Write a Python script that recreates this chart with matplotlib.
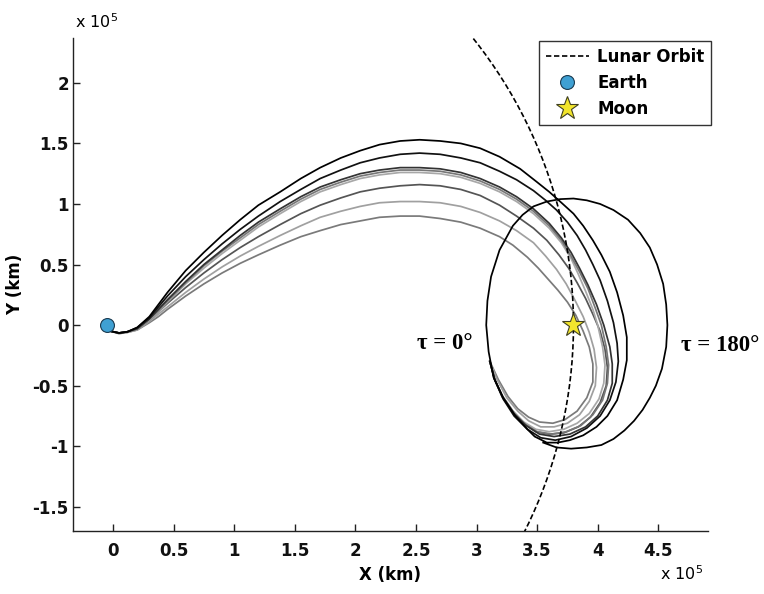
import numpy as np
import matplotlib
matplotlib.use('Agg')
import matplotlib.pyplot as plt

# all distances in units of 1e5 km (rotating frame, barycentre at origin)
earth_pos = (-0.05, 0.0)
moon_pos = (3.80, 0.0)
lunar_orbit_radius = 3.80

# common x samples for the outbound leg
rise_x = [-0.02, 0.05, 0.12, 0.2, 0.3, 0.375, 0.45, 0.6, 0.75, 0.9, 1.05, 1.2, 1.38,
          1.55, 1.71, 1.88, 2.04, 2.2, 2.37, 2.53, 2.7, 2.87, 3.03, 3.19]

# trajectory 1 (outermost, black) -- outbound leg then two lunar loops
t1_rise_y = [-0.05, -0.065, -0.055, -0.02, 0.07, 0.17, 0.27, 0.45, 0.6, 0.74, 0.87,
             0.99, 1.1, 1.21, 1.3, 1.38, 1.44, 1.49, 1.52, 1.53, 1.52, 1.5, 1.46, 1.39]
t1_loop_x = [3.36, 3.5, 3.6, 3.69, 3.8, 3.88, 3.96, 4.03, 4.1, 4.16, 4.21, 4.24, 4.24,
             4.21, 4.16, 4.08, 3.99, 3.88, 3.77, 3.67, 3.58, 3.48, 3.42, 3.32, 3.22,
             3.14, 3.1, 3.08, 3.09, 3.12, 3.19, 3.3, 3.38, 3.47, 3.58, 3.69, 3.8, 3.91,
             4.02, 4.13, 4.25, 4.35, 4.43, 4.49, 4.54, 4.565, 4.575, 4.565, 4.53, 4.48,
             4.43, 4.37, 4.3, 4.22, 4.13, 4.03, 3.91, 3.78, 3.66, 3.55]
t1_loop_y = [1.29, 1.18, 1.1, 1.02, 0.92, 0.82, 0.7, 0.58, 0.44, 0.27, 0.08, -0.1, -0.29,
             -0.45, -0.62, -0.75, -0.84, -0.91, -0.95, -0.97, -0.97, -0.92, -0.86, -0.75,
             -0.6, -0.43, -0.22, 0.0, 0.2, 0.4, 0.62, 0.82, 0.91, 0.98, 1.02, 1.04, 1.045,
             1.03, 1.0, 0.95, 0.87, 0.76, 0.64, 0.5, 0.34, 0.17, 0.0, -0.18, -0.36, -0.5,
             -0.6, -0.7, -0.79, -0.87, -0.94, -0.99, -1.01, -1.02, -1.01, -0.97]

t2_rise_y = [-0.05, -0.065, -0.055, -0.02, 0.06, 0.15, 0.24, 0.4, 0.54, 0.67, 0.79, 0.9,
             1.02, 1.12, 1.21, 1.28, 1.34, 1.38, 1.41, 1.42, 1.41, 1.38, 1.34, 1.27]
t2_loop_x = [3.33, 3.47, 3.57, 3.66, 3.75, 3.83, 3.9, 3.96, 4.02, 4.08, 4.13, 4.16, 4.17,
             4.15, 4.1, 4.02, 3.91, 3.78, 3.65, 3.53, 3.42, 3.31, 3.22, 3.15, 3.11]
t2_loop_y = [1.2, 1.11, 1.03, 0.95, 0.85, 0.74, 0.62, 0.5, 0.37, 0.2, 0.02, -0.15, -0.3,
             -0.47, -0.62, -0.75, -0.85, -0.92, -0.95, -0.93, -0.86, -0.75, -0.61, -0.45, -0.3]

t3_rise_y = [-0.05, -0.065, -0.055, -0.03, 0.05, 0.13, 0.21, 0.36, 0.5, 0.62, 0.74, 0.85,
             0.96, 1.06, 1.14, 1.2, 1.25, 1.28, 1.3, 1.3, 1.29, 1.26, 1.21, 1.14]
t3_loop_x = [3.33, 3.47, 3.6, 3.7, 3.78, 3.85, 3.92, 3.99, 4.05, 4.1, 4.12, 4.12, 4.08,
             4.0, 3.9, 3.77, 3.64, 3.52, 3.41, 3.31, 3.22, 3.15, 3.11]
t3_loop_y = [1.06, 0.96, 0.84, 0.72, 0.6, 0.47, 0.33, 0.17, 0.0, -0.18, -0.32, -0.48, -0.62,
             -0.75, -0.84, -0.9, -0.92, -0.9, -0.83, -0.73, -0.6, -0.45, -0.3]

t4_rise_y = [-0.05, -0.065, -0.055, -0.03, 0.05, 0.12, 0.2, 0.35, 0.49, 0.61, 0.72, 0.83,
             0.94, 1.04, 1.12, 1.18, 1.23, 1.26, 1.28, 1.28, 1.27, 1.24, 1.19, 1.12]
t4_loop_x = [3.33, 3.47, 3.6, 3.7, 3.78, 3.85, 3.92, 3.98, 4.03, 4.07, 4.09, 4.08, 4.04,
             3.96, 3.86, 3.74, 3.62, 3.5, 3.4, 3.3, 3.21, 3.15, 3.11]
t4_loop_y = [1.04, 0.94, 0.82, 0.7, 0.57, 0.44, 0.3, 0.14, 0.0, -0.18, -0.33, -0.48, -0.62,
             -0.74, -0.83, -0.88, -0.9, -0.88, -0.82, -0.72, -0.59, -0.45, -0.3]

t5_rise_y = [-0.05, -0.065, -0.055, -0.03, 0.04, 0.11, 0.19, 0.34, 0.47, 0.59, 0.7, 0.81,
             0.92, 1.02, 1.1, 1.16, 1.21, 1.24, 1.26, 1.26, 1.25, 1.22, 1.17, 1.1]
t5_loop_x = [3.33, 3.47, 3.6, 3.7, 3.78, 3.84, 3.9, 3.96, 4.0, 4.04, 4.06, 4.05, 4.01,
             3.93, 3.83, 3.72, 3.6, 3.49, 3.39, 3.29, 3.21, 3.15, 3.11]
t5_loop_y = [1.02, 0.92, 0.8, 0.68, 0.55, 0.42, 0.28, 0.13, 0.0, -0.18, -0.33, -0.48, -0.61,
             -0.73, -0.81, -0.86, -0.88, -0.86, -0.8, -0.7, -0.58, -0.45, -0.3]

t6_rise_y = [-0.05, -0.065, -0.055, -0.03, 0.04, 0.11, 0.18, 0.31, 0.43, 0.54, 0.64, 0.73,
             0.83, 0.92, 0.99, 1.05, 1.1, 1.13, 1.15, 1.16, 1.15, 1.12, 1.07, 0.99]
t6_loop_x = [3.33, 3.47, 3.58, 3.68, 3.76, 3.83, 3.9, 3.96, 4.02, 4.06, 4.08, 4.07, 4.02,
             3.94, 3.84, 3.72, 3.6, 3.49, 3.39, 3.3, 3.21, 3.15, 3.11]
t6_loop_y = [0.9, 0.8, 0.7, 0.58, 0.47, 0.35, 0.22, 0.09, -0.05, -0.2, -0.35, -0.5, -0.64,
             -0.76, -0.84, -0.89, -0.9, -0.88, -0.81, -0.71, -0.58, -0.45, -0.3]

t7_rise_y = [-0.05, -0.07, -0.06, -0.04, 0.03, 0.09, 0.15, 0.27, 0.38, 0.48, 0.57, 0.65,
             0.74, 0.82, 0.89, 0.94, 0.98, 1.01, 1.02, 1.02, 1.01, 0.98, 0.93, 0.86]
t7_loop_x = [3.33, 3.47, 3.57, 3.66, 3.74, 3.81, 3.88, 3.93, 3.97, 3.99, 3.98, 3.93,
             3.85, 3.75, 3.64, 3.53, 3.43, 3.34, 3.25, 3.17, 3.11]
t7_loop_y = [0.78, 0.68, 0.57, 0.46, 0.34, 0.21, 0.07, -0.06, -0.2, -0.35, -0.5, -0.63,
             -0.74, -0.81, -0.84, -0.84, -0.79, -0.71, -0.6, -0.45, -0.3]

t8_rise_y = [-0.05, -0.07, -0.06, -0.04, 0.02, 0.07, 0.13, 0.24, 0.34, 0.43, 0.51, 0.58,
             0.66, 0.73, 0.78, 0.83, 0.86, 0.89, 0.9, 0.9, 0.88, 0.85, 0.8, 0.73]
t8_loop_x = [3.3, 3.42, 3.51, 3.59, 3.67, 3.75, 3.82, 3.88, 3.93, 3.96, 3.96, 3.91,
             3.83, 3.73, 3.63, 3.52, 3.43, 3.34, 3.26, 3.18, 3.11]
t8_loop_y = [0.66, 0.56, 0.47, 0.38, 0.29, 0.19, 0.08, -0.05, -0.18, -0.32, -0.47, -0.6,
             -0.71, -0.78, -0.81, -0.8, -0.76, -0.69, -0.59, -0.45, -0.3]

trajectories = [
    (t8_rise_y, t8_loop_x, t8_loop_y, '#7a7a7a'),
    (t7_rise_y, t7_loop_x, t7_loop_y, '#a0a0a0'),
    (t6_rise_y, t6_loop_x, t6_loop_y, '#555555'),
    (t5_rise_y, t5_loop_x, t5_loop_y, '#a8a8a8'),
    (t4_rise_y, t4_loop_x, t4_loop_y, '#777777'),
    (t3_rise_y, t3_loop_x, t3_loop_y, '#333333'),
    (t2_rise_y, t2_loop_x, t2_loop_y, '#111111'),
    (t1_rise_y, t1_loop_x, t1_loop_y, '#000000'),
]

sans = ['DejaVu Sans']
serif = ['Liberation Serif', 'DejaVu Serif']
plt.rcParams['font.family'] = sans

fig = plt.figure(figsize=(7.64, 5.94), dpi=100)
ax = fig.add_axes([0.0955, 0.106, 0.8312, 0.830])

for rise_y, loop_x, loop_y, col in trajectories:
    ax.plot(rise_x + loop_x, rise_y + loop_y, color=col, lw=1.25,
            solid_joinstyle='round', zorder=2)

theta = np.linspace(0, 2 * np.pi, 721)
ax.plot(lunar_orbit_radius * np.cos(theta), lunar_orbit_radius * np.sin(theta),
        color='black', ls=(0, (3.2, 1.6)), lw=1.2, label='Lunar Orbit', zorder=3)
ax.plot(*earth_pos, 'o', ms=10, mfc='#3fa0d3', mec='#1a3a50', mew=0.8,
        ls='none', label='Earth', zorder=4)
ax.plot(*moon_pos, '*', ms=17, mfc='#f2e52c', mec='#404020', mew=0.8,
        ls='none', label='Moon', zorder=4)

ax.set_xlim(-0.33, 4.91)
ax.set_ylim(-1.70, 2.37)
ax.set_xticks([0, 0.5, 1, 1.5, 2, 2.5, 3, 3.5, 4, 4.5])
ax.set_yticks([-1.5, -1, -0.5, 0, 0.5, 1, 1.5, 2])
ax.set_xticklabels(['%g' % v for v in ax.get_xticks()])
ax.set_yticklabels(['%g' % v for v in ax.get_yticks()])

for s in ['top', 'right']:
    ax.spines[s].set_visible(False)
for s in ['left', 'bottom']:
    ax.spines[s].set_color('#222222')
    ax.spines[s].set_linewidth(1.0)

ax.tick_params(direction='in', length=5, width=1, color='#222222',
               labelsize=12, labelcolor='#111111')
ax.tick_params(axis='x', pad=8)
ax.tick_params(axis='y', pad=3)
for lab in ax.get_xticklabels() + ax.get_yticklabels():
    lab.set_fontweight('bold')

ax.set_xlabel('X (km)', fontsize=12, fontweight='bold', labelpad=4)
ax.set_ylabel('Y (km)', fontsize=12, fontweight='bold', labelpad=6)

ax.text(0.003, 1.015, r'x 10$^5$', transform=ax.transAxes, fontsize=11.5,
        ha='left', va='bottom')
ax.text(0.924, -0.105, r'x 10$^5$', transform=ax.transAxes, fontsize=11.5,
        ha='left', va='bottom', clip_on=False)

ax.text(2.51, -0.15, u'\u03c4 = 0\u00b0', family=serif, fontweight='bold',
        fontsize=16.5, ha='left', va='center')
ax.text(4.69, -0.165, u'\u03c4 = 180\u00b0', family=serif, fontweight='bold',
        fontsize=16.5, ha='left', va='center', clip_on=False)

leg = ax.legend(loc='upper right', bbox_to_anchor=(1.005, 0.994), borderaxespad=0,
                fancybox=False, framealpha=1, edgecolor='#333333',
                prop={'weight': 'bold', 'size': 12, 'family': sans},
                handlelength=2.6, handletextpad=0.5, labelspacing=0.5,
                borderpad=0.4)
leg.get_frame().set_linewidth(1.0)

fig.savefig('out.png', dpi=100)
